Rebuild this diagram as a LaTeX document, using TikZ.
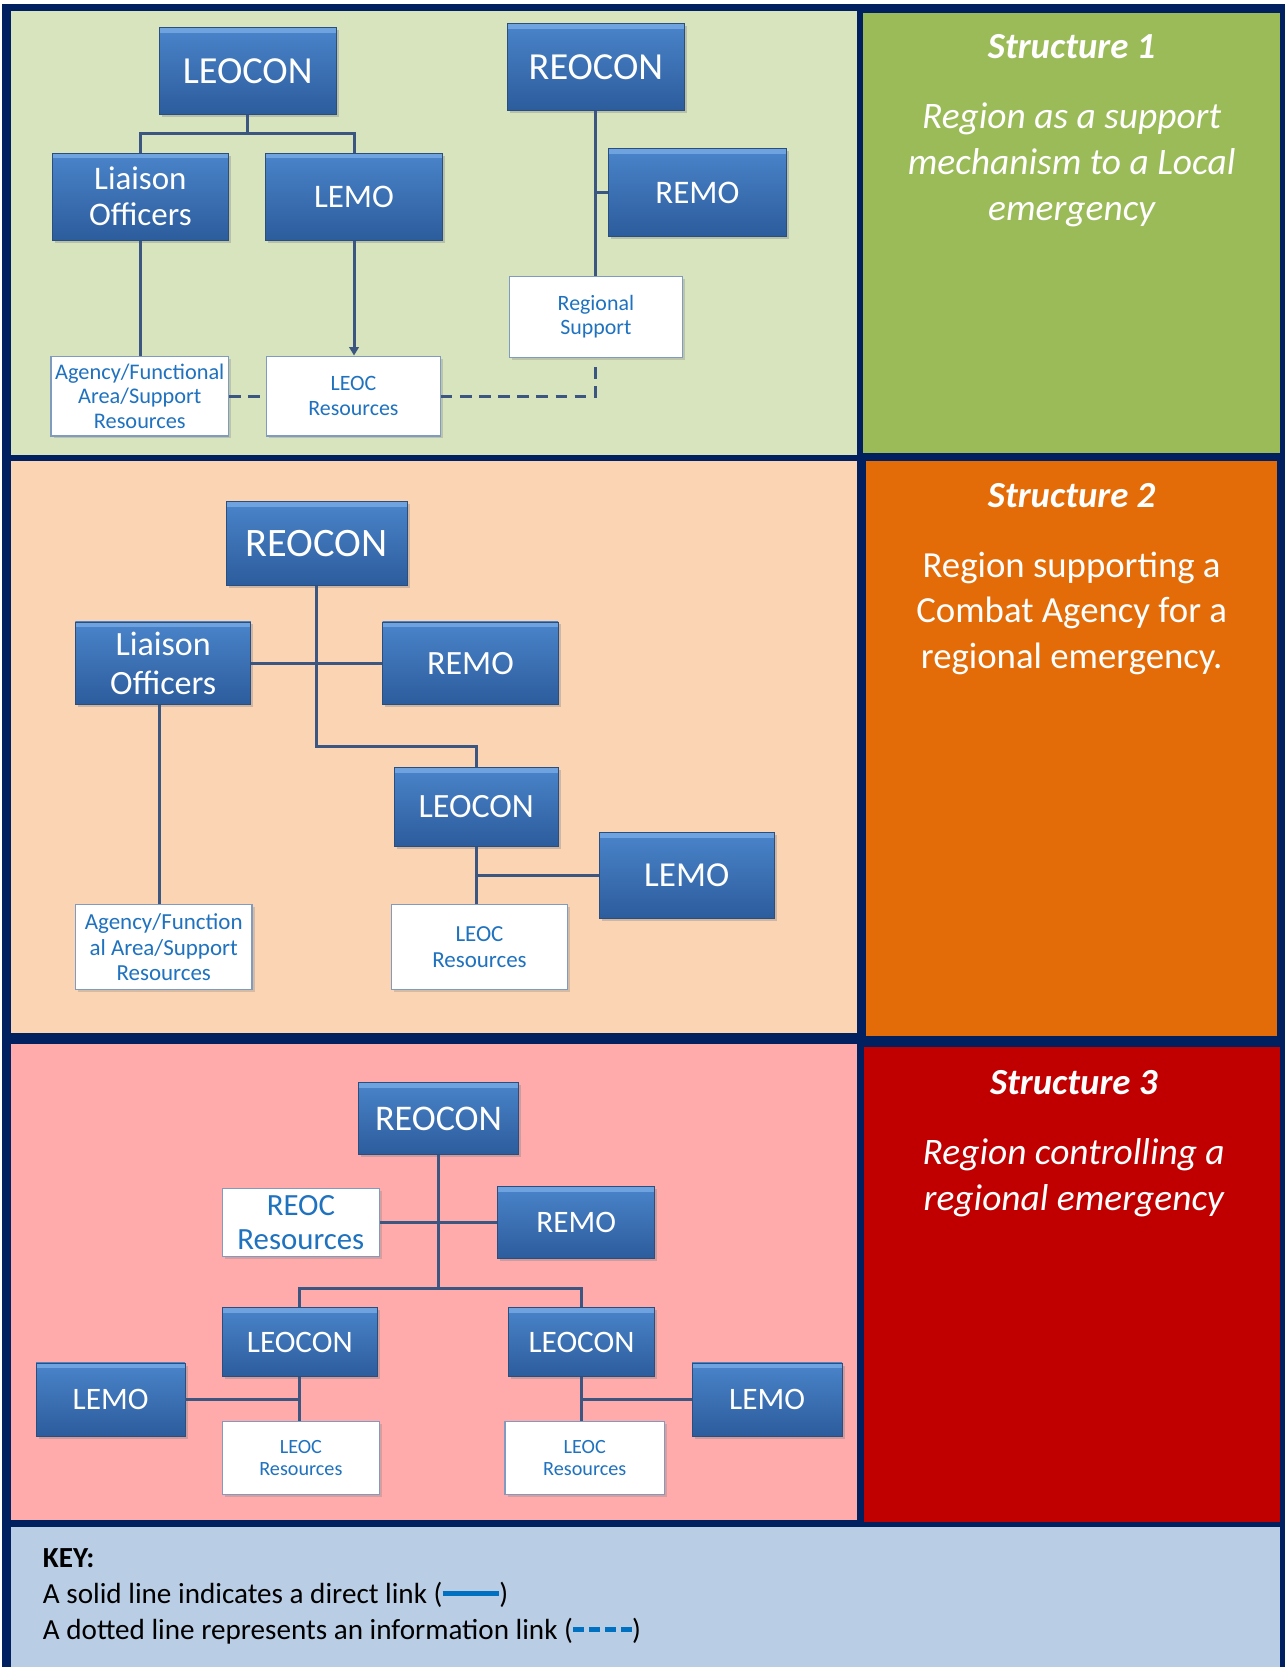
\documentclass[tikz,border=0pt]{standalone}
\usepackage{fontspec}
\setmainfont{Carlito}
\usetikzlibrary{shadows,arrows.meta,calc}
\definecolor{navy}{HTML}{002060}
\definecolor{pOneL}{HTML}{D7E4BD}
\definecolor{pOneR}{HTML}{9BBB59}
\definecolor{pTwoL}{HTML}{FBD4B4}
\definecolor{pTwoR}{HTML}{E36C09}
\definecolor{pThrL}{HTML}{FFABAB}
\definecolor{pThrR}{HTML}{C00000}
\definecolor{keybg}{HTML}{B9CDE5}
\definecolor{keyblue}{HTML}{0070C0}
\definecolor{linkc}{HTML}{3B5680}
\definecolor{boxtop}{HTML}{4A84CA}
\definecolor{boxbot}{HTML}{2C5C9C}
\definecolor{boxhi}{HTML}{6FA3E0}
\definecolor{boxedge}{HTML}{2A4E7E}
\definecolor{wtext}{HTML}{1F72BF}
\definecolor{wedge}{HTML}{7F9CC0}
\newcommand\setfs[2]{\fontsize{#1}{#2}\selectfont}
\begin{document}
\begin{tikzpicture}[x=0.5pt,y=-0.5pt,
  bluebox/.style={rectangle, inner sep=0pt, align=center, text=white,
     top color=boxtop, bottom color=boxbot, draw=boxedge, line width=0.4pt,
     drop shadow={shadow xshift=1.2pt, shadow yshift=-1.2pt, opacity=0.35},
     path picture={\fill[boxhi] (path picture bounding box.north west) rectangle ([yshift=-2.5pt]path picture bounding box.north east);}},
  whitebox/.style={rectangle, inner sep=0pt, align=center, text=wtext,
     fill=white, draw=wedge, line width=0.6pt,
     drop shadow={shadow xshift=1.2pt, shadow yshift=-1.2pt, opacity=0.3}},
  bsize/.style 2 args={minimum width=#1, minimum height=#2},
  link/.style={draw=linkc, line width=1.4pt},
  infolink/.style={link, dash pattern=on 5.5pt off 3.5pt},
  rtitle/.style={text=white, align=center, font=\bfseries\itshape\setfs{17.3}{20}},
  rbody/.style={text=white, align=center},
  keytext/.style={anchor=base west, inner sep=0pt, text=black, font=\setfs{13.7}{16}},
]
\useasboundingbox (0,0) rectangle (1209,1568);
% frame and panels
\fill[white] (0,0) rectangle (1209,1568);
\fill[navy] (2,4) rectangle (1209,1568);
\fill[pOneL] (10,10) rectangle (806,428);
\fill[pOneR] (812,12) rectangle (1204,426);
\fill[pTwoL] (10,434) rectangle (806,972);
\fill[pTwoR] (815,434) rectangle (1201,974);
\fill[pThrL] (10,982) rectangle (806,1430);
\fill[pThrR] (813,985) rectangle (1204,1432);
\fill[keybg] (10,1436) rectangle (1204,1568);

% ---------- Structure 1 ----------
\node[bluebox, bsize={83pt}{41pt}, font=\setfs{18}{20}] (leocon1) at (233,67) {LEOCON};
\node[bluebox, bsize={83.5pt}{41pt}, font=\setfs{18}{20}] (reocon1) at (560.5,63) {REOCON};
\node[bluebox, bsize={83pt}{41pt}, font=\setfs{15.5}{17}] (lia1) at (132,185) {Liaison\\Officers};
\node[bluebox, bsize={83pt}{41pt}, font=\setfs{15.5}{17}] (lemo1) at (333,185) {LEMO};
\node[bluebox, bsize={84pt}{41pt}, font=\setfs{15.5}{17}] (remo1) at (656,181) {REMO};
\node[whitebox, bsize={81.5pt}{38pt}, font=\setfs{10.3}{11.5}] (rs1) at (560.5,298) {Regional\\Support};
\node[whitebox, bsize={83.5pt}{37.5pt}, font=\setfs{10.5}{11.5}] (ag1) at (131.5,372.5) {Agency/Functional\\Area/Support\\Resources};
\node[whitebox, bsize={81.5pt}{37.5pt}, font=\setfs{10.3}{11.5}] (lr1) at (332.5,372.5) {LEOC\\Resources};
\coordinate (j1) at (233,126);
\draw[link] (leocon1.south) -- (j1);
\draw[link] (lia1.north) |- (j1) -| (lemo1.north);
\draw[link] (lia1.south) -- (lia1.south |- ag1.north);
\draw[link, -{Triangle[length=4pt,width=4.5pt]}] (lemo1.south) -- (lemo1.south |- lr1.north);
\draw[link] (reocon1.south) -- (rs1.north);
\draw[link] (remo1.west) -- (remo1.west -| reocon1.south);
\draw[infolink] (ag1.east) -- (lr1.west);
\draw[infolink] (lr1.east) -| ([yshift=-3.5pt]rs1.south);

\node[rtitle] (t1) at (1008,44) {Structure 1};
\node[rbody, font=\itshape\setfs{17.6}{21.5}] (b1) at (1008,155) {Region as a support\\mechanism to a Local\\emergency};

% ---------- Structure 2 ----------
\node[bluebox, bsize={85pt}{39.5pt}, font=\setfs{19}{21}] (reocon2) at (298,511.5) {REOCON};
\node[bluebox, bsize={82.5pt}{39pt}, font=\setfs{16}{18}] (lia2) at (153.5,624) {Liaison\\Officers};
\node[bluebox, bsize={82.5pt}{39pt}, font=\setfs{16}{18}] (remo2) at (442.5,624) {REMO};
\node[bluebox, bsize={77pt}{37pt}, font=\setfs{16}{18}] (leocon2) at (448,759) {LEOCON};
\node[bluebox, bsize={82pt}{40.5pt}, font=\setfs{16.5}{18}] (lemo2) at (646,823.5) {LEMO};
\node[whitebox, bsize={83pt}{40pt}, font=\setfs{10.8}{12}] (ag2) at (154,891) {Agency/Function\\al Area/Support\\Resources};
\node[whitebox, bsize={83pt}{40pt}, font=\setfs{10.8}{12}] (lr2) at (451,891) {LEOC\\Resources};
\coordinate (k2) at (298,702);
\draw[link] (reocon2.south) -- (k2) -| (leocon2.north);
\draw[link] (lia2.east) -- (remo2.west);
\draw[link] ([xshift=-1.75pt]lia2.south) -- ([xshift=-1.75pt]lia2.south |- ag2.north);
\draw[link] (leocon2.south) -- (leocon2.south |- lr2.north);
\draw[link] (lemo2.west) -- (lemo2.west -| leocon2.south);

\node[rtitle] (t2) at (1008,466) {Structure 2};
\node[rbody, font=\setfs{17.3}{21.5}] (b2) at (1008,577) {Region supporting a\\Combat Agency for a\\regional emergency.};

% ---------- Structure 3 ----------
\node[bluebox, bsize={75.5pt}{34pt}, font=\setfs{17}{19}] (reocon3) at (412.5,1052) {REOCON};
\node[whitebox, bsize={74pt}{32pt}, font=\setfs{14.5}{16}] (rr3) at (283,1150) {REOC\\Resources};
\node[bluebox, bsize={74pt}{34pt}, font=\setfs{14.7}{17}] (remo3) at (542,1150) {REMO};
\node[bluebox, bsize={73pt}{32.5pt}, font=\setfs{14.7}{17}] (leocona) at (282,1262.5) {LEOCON};
\node[bluebox, bsize={69pt}{32.5pt}, font=\setfs{14.7}{17}] (leoconb) at (547,1262.5) {LEOCON};
\node[bluebox, bsize={70pt}{34.5pt}, font=\setfs{14.7}{17}] (lemoa) at (104,1316.5) {LEMO};
\node[bluebox, bsize={70.5pt}{34.5pt}, font=\setfs{14.7}{17}] (lemob) at (721.5,1316.5) {LEMO};
\node[whitebox, bsize={74pt}{34.5pt}, font=\setfs{9.5}{10.5}] (lra) at (283,1371.5) {LEOC\\Resources};
\node[whitebox, bsize={75pt}{34.5pt}, font=\setfs{9.5}{10.5}] (lrb) at (550,1371.5) {LEOC\\Resources};
\coordinate (k3) at (412.5,1212);
\draw[link] (reocon3.south) -- (k3);
\draw[link] (leocona.north) |- (k3) -| (leoconb.north);
\draw[link] (rr3.east) -- (remo3.west);
\draw[link] (leocona.south) -- (leocona.south |- lra.north);
\draw[link] (lemoa.east) -- (lemoa.east -| leocona.south);
\draw[link] (leoconb.south) -- (leoconb.south |- lrb.north);
\draw[link] (lemob.west) -- (lemob.west -| leoconb.south);

\node[rtitle] (t3) at (1010,1018) {Structure 3};
\node[rbody, font=\itshape\setfs{17.6}{21.5}] (b3) at (1010,1107.5) {Region controlling a\\regional emergency};

% ---------- Key ----------
\node[keytext, font=\bfseries\setfs{13.7}{16}] (keyT) at (40,1474) {KEY:};
\node[keytext] (keyA) at (40,1508) {A solid line indicates a direct link (\textcolor{keyblue}{\rule[0.26em]{1.95em}{0.15em}})};
\node[keytext] (keyB) at (40,1542) {A dotted line represents an information link (\textcolor{keyblue}{\rule[0.26em]{0.38em}{0.15em}\hspace{0.17em}\rule[0.26em]{0.38em}{0.15em}\hspace{0.17em}\rule[0.26em]{0.38em}{0.15em}\hspace{0.17em}\rule[0.26em]{0.38em}{0.15em}})};
\end{tikzpicture}
\end{document}
